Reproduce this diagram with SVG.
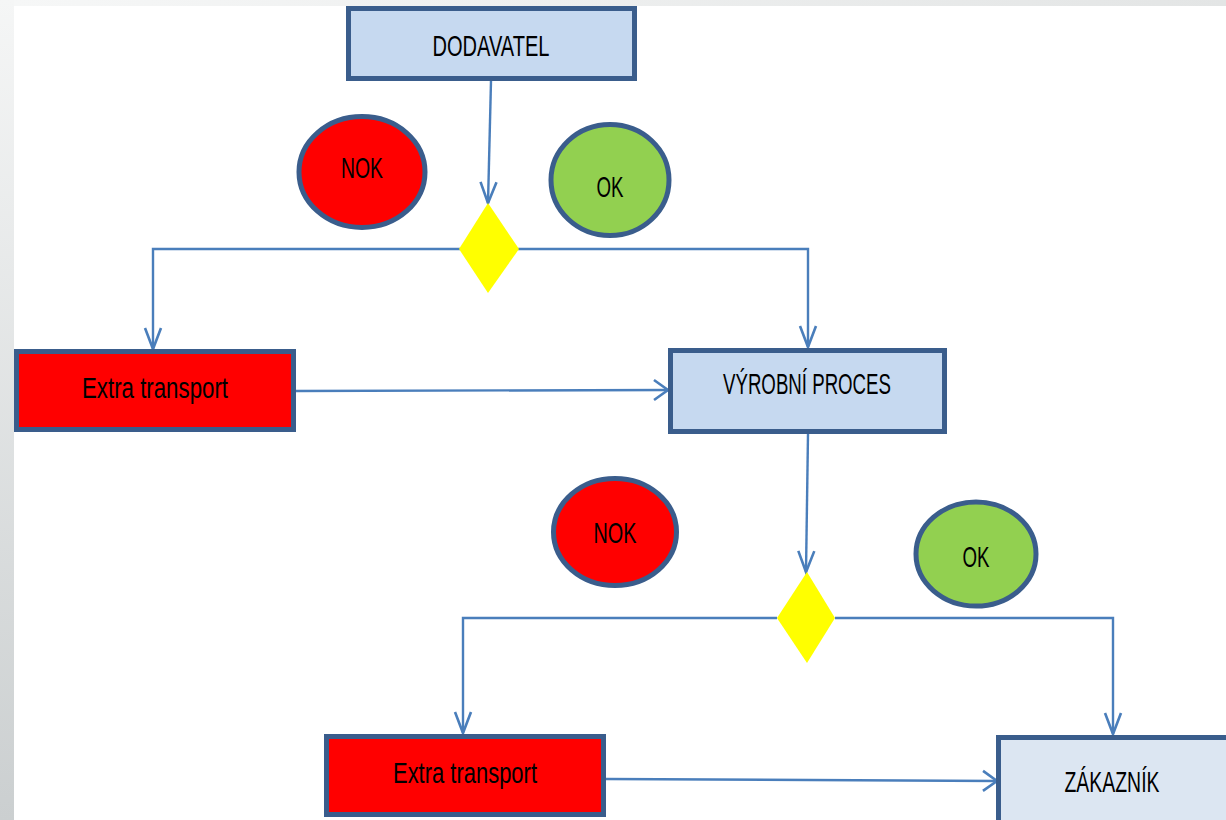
<svg xmlns="http://www.w3.org/2000/svg" width="1226" height="820" viewBox="0 0 1226 820">
<defs>
<linearGradient id="gl" x1="0" y1="0" x2="0" y2="1"><stop offset="0" stop-color="#f5f6f6"/><stop offset="1" stop-color="#cbcfd0"/></linearGradient>
<linearGradient id="gt" x1="0" y1="0" x2="1" y2="0"><stop offset="0" stop-color="#f6f7f7"/><stop offset="1" stop-color="#e3e5e5"/></linearGradient>
<marker id="av" markerUnits="userSpaceOnUse" markerWidth="30" markerHeight="30" refX="22" refY="10" orient="auto" viewBox="0 0 30 20"><path d="M1,2 L22,10 L1,18" fill="none" stroke="#4a7ebb" stroke-width="2.6"/></marker>
<marker id="ah" markerUnits="userSpaceOnUse" markerWidth="30" markerHeight="30" refX="16" refY="12" orient="auto" viewBox="0 0 30 24"><path d="M2,2 L16,12 L2,22" fill="none" stroke="#4a7ebb" stroke-width="2.6"/></marker>
</defs>
<style>
.box{stroke:#3a5d8c;stroke-width:5}
.blue{fill:#c6d9f0}
.red{fill:#ff0000}
.green{fill:#92d050}
.dia{fill:#ffff00}
.t{font-family:"Liberation Sans",Arial,sans-serif;font-size:30px;fill:#000;text-anchor:middle}
.c{fill:none;stroke:#4a7ebb;stroke-width:2.4}
</style>
<rect x="0" y="0" width="14" height="820" fill="url(#gl)"/>
<rect x="14" y="0" width="1212" height="6" fill="url(#gt)"/>
<rect x="14" y="6" width="1212" height="814" fill="#ffffff"/>
<g id="connectors">
<path class="c" d="M491,81 L488,203" marker-end="url(#av)"/>
<path class="c" d="M460,249 L153,249 L153,349" marker-end="url(#av)"/>
<path class="c" d="M518,249 L808,249 L808,347" marker-end="url(#av)"/>
<path class="c" d="M296,391 L668,390" marker-end="url(#ah)"/>
<path class="c" d="M808,434 L806,572" marker-end="url(#av)"/>
<path class="c" d="M777,618 L463,618 L463,733" marker-end="url(#av)"/>
<path class="c" d="M835,618 L1113,618 L1113,734" marker-end="url(#av)"/>
<path class="c" d="M606,779 L997,781" marker-end="url(#ah)"/>
</g>
<g id="dodavatel"><rect class="box blue" x="348.5" y="8.5" width="286" height="70"/><text class="t" x="491" y="56" textLength="117" lengthAdjust="spacingAndGlyphs">DODAVATEL</text></g>
<g id="nok1"><ellipse class="box red" cx="362" cy="172" rx="63" ry="55.5"/><text class="t" x="362" y="178" textLength="42" lengthAdjust="spacingAndGlyphs">NOK</text></g>
<g id="ok1"><ellipse class="box green" cx="610" cy="180" rx="59" ry="55.5"/><text class="t" x="610" y="197" textLength="27" lengthAdjust="spacingAndGlyphs">OK</text></g>
<g id="decision1"><polygon class="dia" points="488,203 519,249 488,293 459,249"/></g>
<g id="extra1"><rect class="box red" x="16.5" y="351.5" width="277" height="78"/><text class="t" x="155" y="398" textLength="146" lengthAdjust="spacingAndGlyphs">Extra transport</text></g>
<g id="vyrobni"><rect class="box blue" x="670.5" y="350.5" width="274" height="81"/><text class="t" x="807" y="394" textLength="168" lengthAdjust="spacingAndGlyphs">VÝROBNÍ PROCES</text></g>
<g id="nok2"><ellipse class="box red" cx="615" cy="532" rx="61.5" ry="53.5"/><text class="t" x="615" y="543" textLength="43" lengthAdjust="spacingAndGlyphs">NOK</text></g>
<g id="ok2"><ellipse class="box green" cx="976" cy="554" rx="60" ry="52"/><text class="t" x="976" y="567" textLength="27" lengthAdjust="spacingAndGlyphs">OK</text></g>
<g id="decision2"><polygon class="dia" points="807,572 835,618 807,663 777,618"/></g>
<g id="extra2"><rect class="box red" x="326.5" y="736.5" width="277" height="78"/><text class="t" x="465" y="783" textLength="144" lengthAdjust="spacingAndGlyphs">Extra transport</text></g>
<g id="zakaznik"><rect x="998.5" y="737.5" width="240" height="100" fill="#dce6f2" class="box"/><text class="t" x="1112" y="792" textLength="95" lengthAdjust="spacingAndGlyphs">ZÁKAZNÍK</text></g>
</svg>
